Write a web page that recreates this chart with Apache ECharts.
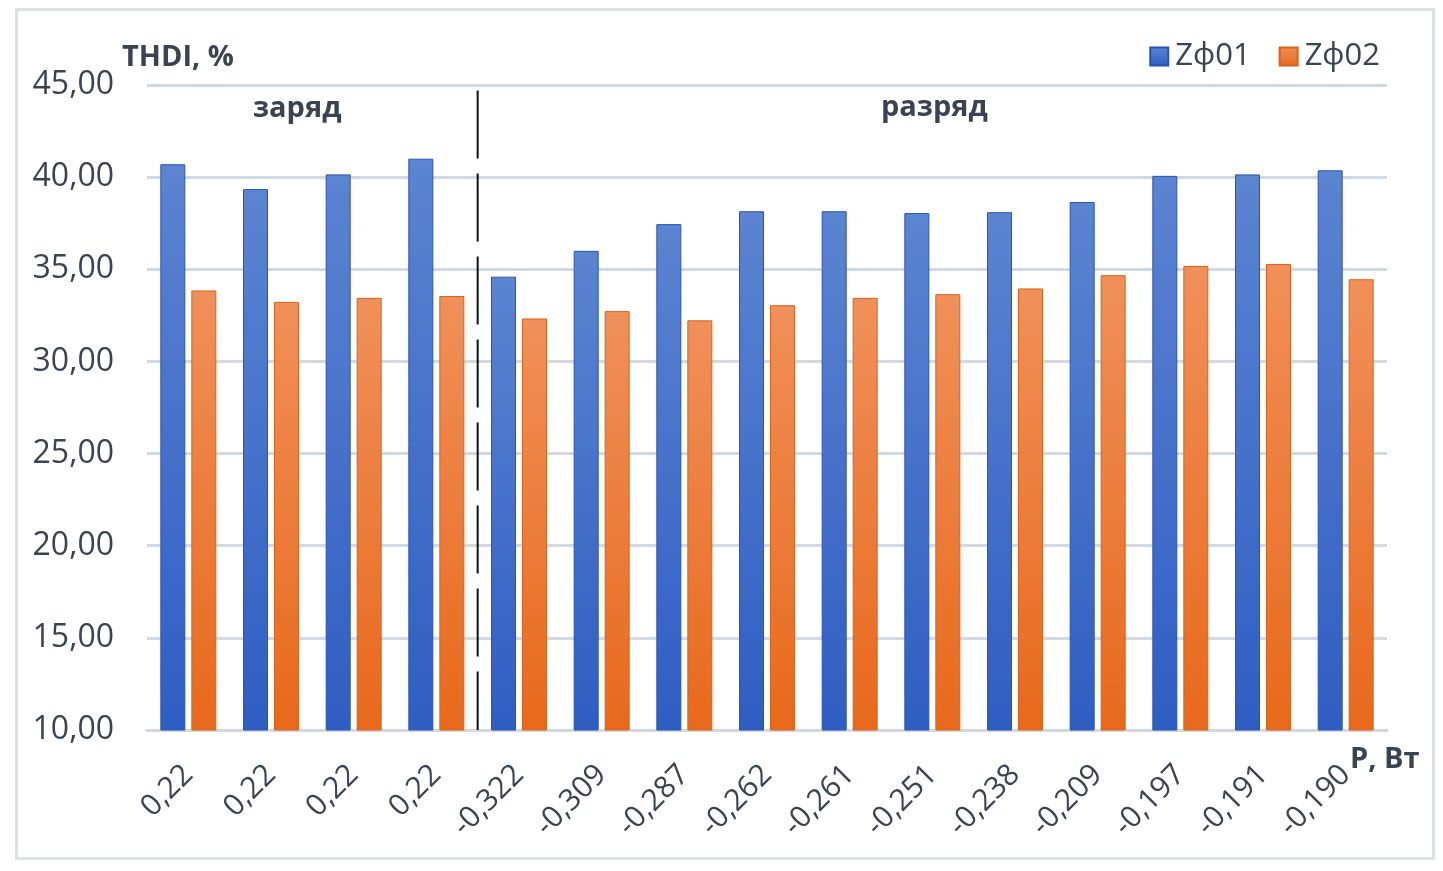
<!DOCTYPE html>
<html>
<head>
<meta charset="utf-8">
<script src="https://cdn.jsdelivr.net/npm/echarts@6/dist/echarts.min.js"></script>
<style>
  html, body { margin:0; padding:0; background:#fff; }
  #frame { position:absolute; left:15px; top:8px; width:1414px; height:846px; border:3px solid #dde1e6; box-sizing:content-box; }
  #chart { position:absolute; left:0; top:0; width:1443px; height:871px; }
</style>
</head>
<body>
<div id="frame"></div>
<div id="chart"></div>
<script>
// ---- data ----
const categories = ['0,22','0,22','0,22','0,22','-0,322','-0,309','-0,287','-0,262','-0,261','-0,251','-0,238','-0,209','-0,197','-0,191','-0,190'];
const seriesNames = ['Zф01', 'Zф02'];
const zf01 = [40.7, 39.35, 40.15, 41.0, 34.6, 36.0, 37.45, 38.15, 38.15, 38.05, 38.1, 38.65, 40.07, 40.15, 40.37];
const zf02 = [33.85, 33.23, 33.45, 33.55, 32.33, 32.73, 32.23, 33.05, 33.45, 33.65, 33.96, 34.68, 35.18, 35.29, 34.46];
const yTicks = { min: 10, max: 45, interval: 5 };
const regionLabels = ['заряд', 'разряд'];
const dividerX = 4;           // boundary between charge and discharge categories
const dividerY = [44.7, 10];  // vertical extent of the dashed divider

const txt = '#3b4252';
const font = '"Open Sans", "Noto Sans", sans-serif';

const chart = echarts.init(document.getElementById('chart'));
const option = {
  animation: false,
  textStyle: { fontFamily: font },
  grid: { left: 147, right: 56, top: 85, bottom: 141 },
  legend: {
    right: 58, top: 36,
    itemWidth: 18, itemHeight: 18, itemGap: 28,
    icon: 'rect',
    textStyle: { fontSize: 31, color: txt, fontFamily: font, padding: [0,0,0,2] },
    data: seriesNames
  },
  xAxis: [{
    type: 'category',
    data: categories,
    axisLine: { show: true, lineStyle: { color: '#d3d7de', width: 3 } },
    axisTick: { show: false },
    axisLabel: { rotate: 45, fontSize: 30, color: txt, margin: 40, interval: 0, fontFamily: font }
  }, {
    type: 'value', min: 0, max: categories.length, show: false
  }],
  yAxis: {
    type: 'value',
    min: yTicks.min, max: yTicks.max, interval: yTicks.interval,
    axisLine: { show: false },
    axisTick: { show: false },
    splitLine: { lineStyle: { color: '#d3d9e3', width: 3 } },
    axisLabel: {
      fontSize: 32, color: txt, margin: 33, fontFamily: font,
      formatter: v => v.toFixed(2).replace('.', ',')
    }
  },
  series: [{
    name: seriesNames[0], type: 'bar', data: zf01,
    barWidth: 25, barGap: '24%',
    itemStyle: {
      color: new echarts.graphic.LinearGradient(0,0,0,1,[{offset:0,color:'#5b84d1'},{offset:1,color:'#2f5ec3'}]),
      borderColor: '#2b53b3', borderWidth: 1
    }
  }, {
    name: seriesNames[1], type: 'bar', data: zf02,
    barWidth: 25,
    itemStyle: {
      color: new echarts.graphic.LinearGradient(0,0,0,1,[{offset:0,color:'#f0905a'},{offset:1,color:'#e8691b'}]),
      borderColor: '#dc6218', borderWidth: 1
    }
  }, {
    type: 'line', xAxisIndex: 1, symbol: 'none', silent: true,
    data: [[dividerX, dividerY[0]], [dividerX, dividerY[1]]],
    lineStyle: { color: '#111', width: 2, type: [68, 15] },
    legendHoverLink: false
  }],
  graphic: [
    { type: 'text', left: 122, top: 43, style: { text: 'THDI, %', font: 'bold 29px ' + font, fill: txt } },
    { type: 'text', left: 1350, top: 745, style: { text: 'P, Вт', font: 'bold 29px ' + font, fill: txt } },
    { type: 'text', left: 253, top: 94, style: { text: regionLabels[0], font: 'bold 29px ' + font, fill: txt } },
    { type: 'text', left: 881, top: 93, style: { text: regionLabels[1], font: 'bold 29px ' + font, fill: txt } }
  ]
};
chart.setOption(option);
</script>
</body>
</html>
